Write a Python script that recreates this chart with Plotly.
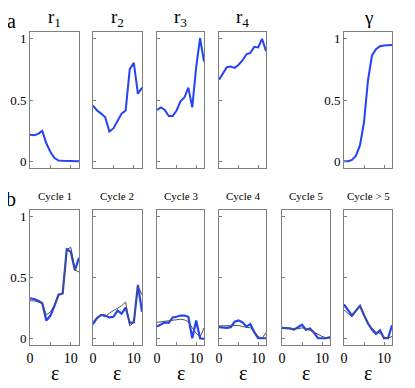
import plotly.graph_objects as go

eps = list(range(13))

# Top row (a)
r1 = [0.22, 0.215, 0.226, 0.25, 0.15, 0.08, 0.03, 0.01, 0.008, 0.007, 0.006, 0.005, 0.005]
r2 = [0.455, 0.415, 0.39, 0.36, 0.245, 0.27, 0.33, 0.39, 0.415, 0.75, 0.80, 0.55, 0.60]
r3 = [0.42, 0.44, 0.42, 0.37, 0.37, 0.415, 0.49, 0.52, 0.60, 0.44, 0.765, 1.0, 0.81]
r4 = [0.665, 0.72, 0.765, 0.77, 0.76, 0.785, 0.82, 0.87, 0.88, 0.93, 0.925, 0.995, 0.895]
gamma = [0.005, 0.005, 0.015, 0.05, 0.135, 0.32, 0.66, 0.86, 0.91, 0.935, 0.94, 0.945, 0.945]

top_titles = ["r<sub>1</sub>", "r<sub>2</sub>", "r<sub>3</sub>", "r<sub>4</sub>", "γ"]
top_series = [r1, r2, r3, r4, gamma]

# Bottom row (b): blue = observed, gray = model
c1_blue = [0.33, 0.325, 0.31, 0.29, 0.15, 0.19, 0.27, 0.36, 0.37, 0.73, 0.71, 0.56, 0.66]
c1_gray = [0.31, 0.31, 0.30, 0.29, 0.195, 0.22, 0.275, 0.355, 0.37, 0.73, 0.745, 0.56, 0.545]
c2_blue = [0.12, 0.17, 0.195, 0.19, 0.175, 0.18, 0.23, 0.205, 0.255, 0.13, 0.135, 0.44, 0.22]
c2_gray = [0.14, 0.175, 0.195, 0.18, 0.21, 0.23, 0.255, 0.27, 0.30, 0.105, 0.135, 0.43, 0.36]
c3_blue = [0.10, 0.115, 0.135, 0.13, 0.175, 0.18, 0.19, 0.19, 0.18, 0.005, 0.15, 0.005, 0.0]
c3_gray = [0.135, 0.14, 0.145, 0.15, 0.155, 0.16, 0.16, 0.155, 0.14, 0.09, 0.045, 0.015, 0.09]
c4_blue = [0.095, 0.09, 0.09, 0.095, 0.14, 0.15, 0.135, 0.10, 0.12, 0.055, 0.005, 0.005, 0.005]
c4_gray = [0.105, 0.105, 0.105, 0.107, 0.11, 0.11, 0.10, 0.095, 0.09, 0.06, 0.02, 0.005, 0.05]
c5_blue = [0.09, 0.09, 0.085, 0.075, 0.095, 0.115, 0.075, 0.085, 0.05, 0.005, 0.005, 0.005, 0.015]
c5_gray = [0.085, 0.085, 0.082, 0.08, 0.082, 0.09, 0.082, 0.07, 0.055, 0.035, 0.02, 0.008, 0.005]
c6_blue = [0.28, 0.235, 0.19, 0.23, 0.27, 0.195, 0.125, 0.075, 0.04, 0.07, 0.005, 0.005, 0.11]
c6_gray = [0.235, 0.21, 0.18, 0.225, 0.265, 0.195, 0.13, 0.085, 0.055, 0.045, 0.015, 0.005, 0.02]

bottom_titles = ["Cycle 1", "Cycle 2", "Cycle 3", "Cycle 4", "Cycle 5", "Cycle > 5"]
bottom_blue = [c1_blue, c2_blue, c3_blue, c4_blue, c5_blue, c6_blue]
bottom_gray = [c1_gray, c2_gray, c3_gray, c4_gray, c5_gray, c6_gray]

# The page body has an 8px margin; the figure is sized to fit the 415x388 window.
OFF = 8
W, H = 415 - OFF, 388 - OFF
cols_px = [(30, 79), (93, 142), (157, 204), (219, 266), (282, 330), (344, 392)]
top_px = (32, 168)
bot_px = (210, 345)
top_cols = [0, 1, 2, 3, 5]

BLUE = "#2343f5"
GRAY = "#505050"
FRAME = "#7f7f7f"
SERIF = "Liberation Serif"

fig = go.Figure()
layout = {}
annotations = []


def px_x(v):
    return (v - OFF) / W


def px_y(v):
    return 1 - (v - OFF) / H


def xd(c):
    return [px_x(cols_px[c][0]), px_x(cols_px[c][1])]


def yd(p):
    return [px_y(p[1]), px_y(p[0])]


def axis_pair(k, c, rowpx, show_y, show_x):
    xa = dict(domain=xd(c), range=[0, 12], anchor=f"y{k}", showline=True, mirror=True,
              linecolor=FRAME, linewidth=1, ticks="inside", ticklen=3, tickcolor=FRAME,
              tickvals=[0, 5, 10], ticktext=["0", "", "10"], showticklabels=show_x,
              showgrid=False, zeroline=False, automargin=False,
              tickfont=dict(family=SERIF, size=14, color="#000"))
    ya = dict(domain=yd(rowpx), range=[-0.05, 1.05], anchor=f"x{k}", showline=True, mirror=True,
              linecolor=FRAME, linewidth=1, ticks="inside", ticklen=3, tickcolor=FRAME,
              tickvals=[0, 0.5, 1], ticktext=["0", "0.5", "1"], showticklabels=show_y,
              showgrid=False, zeroline=False, automargin=False,
              tickfont=dict(family=SERIF, size=13, color="#000"))
    sfx = "" if k == 1 else str(k)
    layout["xaxis" + sfx] = xa
    layout["yaxis" + sfx] = ya
    return "x" + sfx, "y" + sfx


def note(text, xpx, ypx, size):
    annotations.append(dict(text=text, x=px_x(xpx), y=px_y(ypx), xref="paper", yref="paper",
                            xanchor="center", yanchor="middle", showarrow=False,
                            font=dict(family=SERIF, size=size, color="#000")))


k = 1
for i, c in enumerate(top_cols):
    xr, yr = axis_pair(k, c, top_px, show_y=(c in (0, 5)), show_x=False)
    fig.add_trace(go.Scatter(x=eps, y=top_series[i], mode="lines", xaxis=xr, yaxis=yr,
                             line=dict(color=BLUE, width=2), showlegend=False))
    note(top_titles[i], sum(cols_px[c]) / 2, 18, 19)
    k += 1

for c in range(6):
    xr, yr = axis_pair(k, c, bot_px, show_y=(c == 0), show_x=True)
    fig.add_trace(go.Scatter(x=eps, y=bottom_blue[c], mode="lines", xaxis=xr, yaxis=yr,
                             line=dict(color=BLUE, width=2.2), showlegend=False))
    fig.add_trace(go.Scatter(x=eps, y=bottom_gray[c], mode="lines", xaxis=xr, yaxis=yr,
                             line=dict(color=GRAY, width=1), showlegend=False))
    note(bottom_titles[c], sum(cols_px[c]) / 2, 196, 11)
    note("ε", sum(cols_px[c]) / 2, 373, 20)
    k += 1

note("a", 11, 21, 20)
note("b", 11, 199, 20)

fig.update_layout(width=W, height=H, margin=dict(l=0, r=0, t=0, b=0),
                  paper_bgcolor="white", plot_bgcolor="white",
                  annotations=annotations, **layout)

fig.write_html("out.html")
